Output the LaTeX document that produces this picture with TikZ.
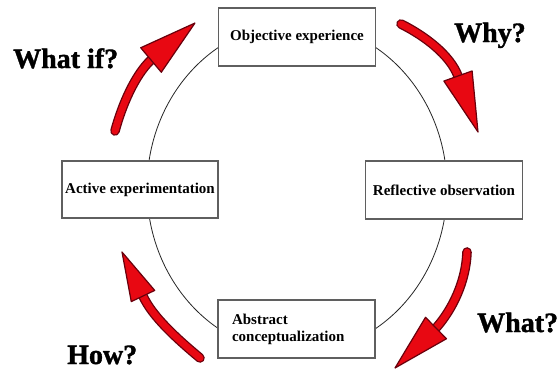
\documentclass[tikz,border=0pt]{standalone}
\usepackage{fontspec}
\setmainfont{Liberation Serif}
\newfontfamily\heavyserif{Liberation Serif}[BoldFeatures={FakeBold=1.3}]
\usetikzlibrary{calc}
\definecolor{arrowred}{RGB}{232,8,18}
\definecolor{arrowdark}{RGB}{105,0,12}
\definecolor{boxgray}{RGB}{95,95,95}
\newcommand\sweeparrow[6]{%
  \draw[shaftline] (#1) .. controls (#2) and (#3) .. (#4);
  \filldraw[headshape] (#5) -- ($(#4)!#6!90:(#5)$) -- ($(#4)!#6!-90:(#5)$) -- cycle;
}
\begin{document}
\begin{tikzpicture}[x=1pt,y=-1pt,
  stagebox/.style={draw=boxgray, line width=1.5pt, fill=white, font=\bfseries\fontsize{15}{17}\selectfont,
     minimum width=157pt, minimum height=58pt, inner sep=0pt},
  question/.style={font=\heavyserif\bfseries\fontsize{28}{30}\selectfont, inner sep=0pt, anchor=base west},
  cycleline/.style={draw=black!85, line width=0.8pt},
  shaftline/.style={draw=arrowdark, line width=1.3pt, double=arrowred, double distance=7pt, line cap=round},
  headshape/.style={fill=arrowred, draw=arrowdark, line width=1.2pt, line join=round}]
\useasboundingbox (0,0) rectangle (557,370);
\fill[white] (0,0) rectangle (557,370);
% cycle
\coordinate (c) at (297,188);
\draw[cycleline] (c) ellipse [x radius=150pt, y radius=165pt];
% stages
\node[stagebox] (obj) at (297,37) {Objective experience};
\node[stagebox] (refl) at (444,190) {Reflective observation};
\node[stagebox, minimum width=156pt, minimum height=57pt] (act) at (140,189.5) {Active experimentation};
\node[stagebox, text width=129pt, align=left] (abs) at (296.5,329) {Abstract\\conceptualization};
% arrows
\sweeparrow{115,131}{122,105}{135,75}{151,60}{195,23}{16pt}
\sweeparrow{401,24}{425,36}{450,55}{458,76}{478,132}{15pt}
\sweeparrow{467,252}{466,282}{452,310}{436,328}{395,368}{15pt}
\sweeparrow{200,358}{176,338}{152,316}{143,296}{122,252}{13pt}
% questions
\node[question] (qwhatif) at (13,68) {What if?};
\node[question] (qwhy) at (454,42) {Why?};
\node[question] (qwhat) at (477,332) {What?};
\node[question] (qhow) at (67,364) {How?};
\end{tikzpicture}
\end{document}
